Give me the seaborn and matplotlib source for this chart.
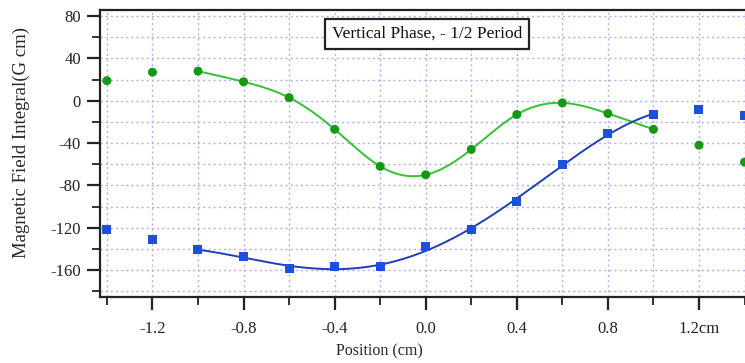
import numpy as np
import pandas as pd
import matplotlib
matplotlib.use("Agg")
import matplotlib.pyplot as plt
import seaborn as sns
from matplotlib.ticker import MultipleLocator, FixedLocator

positions = [-1.4, -1.2, -1.0, -0.8, -0.6, -0.4, -0.2, 0.0, 0.2, 0.4, 0.6, 0.8, 1.0, 1.2, 1.4]
green_vals = [19, 27, 28, 18, 3, -27, -62, -70, -46, -13, -2, -12, -27, -42, -58]
blue_vals = [-122, -131, -141, -147, -159, -157, -157, -138, -122, -95, -60, -31, -13, -8, -14]
xtick_vals = [-1.2, -0.8, -0.4, 0.0, 0.4, 0.8, 1.2]
xtick_labels = ["-1.2", "-0.8", "-0.4", "0.0", "0.4", "0.8", "1.2cm"]
ytick_vals = [80, 40, 0, -40, -80, -120, -160]
title_text = "Vertical Phase, - 1/2 Period"


def natural_spline(x, y, xs):
    x = np.asarray(x, float); y = np.asarray(y, float)
    n = len(x)
    h = np.diff(x)
    A = np.zeros((n, n)); r = np.zeros(n)
    A[0, 0] = A[-1, -1] = 1
    for i in range(1, n - 1):
        A[i, i - 1] = h[i - 1]; A[i, i] = 2 * (h[i - 1] + h[i]); A[i, i + 1] = h[i]
        r[i] = 3 * ((y[i + 1] - y[i]) / h[i] - (y[i] - y[i - 1]) / h[i - 1])
    c = np.linalg.solve(A, r)
    out = []
    for v in xs:
        i = min(max(np.searchsorted(x, v) - 1, 0), n - 2)
        b = (y[i + 1] - y[i]) / h[i] - h[i] * (2 * c[i] + c[i + 1]) / 3
        d = (c[i + 1] - c[i]) / (3 * h[i])
        t = v - x[i]
        out.append(y[i] + b * t + c[i] * t ** 2 + d * t ** 3)
    return np.array(out)


df = pd.DataFrame({"pos": positions, "green": green_vals, "blue": blue_vals})
fit_df = df[(df.pos >= -1.0) & (df.pos <= 1.0)]
xs = np.linspace(-1.0, 1.0, 300)
green_fit = natural_spline(fit_df.pos, fit_df.green, xs)
blue_fit = np.polyval(np.polyfit(fit_df.pos, fit_df.blue, 4), xs)
curves = pd.DataFrame({"pos": xs, "green": green_fit, "blue": blue_fit})

sns.set_style("white")
plt.rcParams["font.family"] = ["Liberation Serif", "DejaVu Serif"]
plt.rcParams["axes.unicode_minus"] = False

fig = plt.figure(figsize=(7.45, 3.63), dpi=100)
ax = fig.add_axes([0.134, 0.182, 0.866, 0.79])

sns.lineplot(data=curves, x="pos", y="green", ax=ax, color="#33c233", lw=1.4)
sns.lineplot(data=curves, x="pos", y="blue", ax=ax, color="#1f3fb8", lw=1.4)
sns.scatterplot(data=df, x="pos", y="green", ax=ax, color="#139a13", marker="o", s=42,
                edgecolor="none", zorder=5, clip_on=False)
sns.scatterplot(data=df, x="pos", y="blue", ax=ax, color="#1a4fe0", marker="s", s=42,
                edgecolor="none", zorder=5, clip_on=False)

ax.set_xlim(-1.431, 1.402)
ax.set_ylim(-185.5, 85.7)
ax.xaxis.set_major_locator(FixedLocator(xtick_vals))
ax.set_xticklabels(xtick_labels)
ax.xaxis.set_minor_locator(MultipleLocator(0.2))
ax.yaxis.set_major_locator(FixedLocator(ytick_vals))
ax.yaxis.set_minor_locator(MultipleLocator(20))
ax.tick_params(axis="both", which="both", bottom=True, left=True, top=False, right=False,
               direction="out", colors="#222222")
ax.tick_params(axis="both", which="major", length=9.5, width=1.6, labelsize=12)
ax.tick_params(axis="x", which="major", pad=8)
ax.tick_params(axis="y", which="major", pad=4)
ax.tick_params(axis="both", which="minor", length=5.5, width=1.3)
ax.grid(True, which="both", color="#b0b0ee", linestyle=(0, (1.5, 2.2)), lw=1.0)
ax.set_axisbelow(True)

for s in ["left", "bottom", "top"]:
    ax.spines[s].set_color("#222222")
    ax.spines[s].set_linewidth(1.6)
ax.spines["right"].set_visible(False)

ax.set_xlabel("Position (cm)", fontsize=11.5)
ax.xaxis.set_label_coords(0.434, -0.163)
ax.set_ylabel("Magnetic Field Integral(G cm)", fontsize=13.5)
ax.yaxis.set_label_coords(-0.108, 0.537)

ax.text(0.507, 0.917, title_text, transform=ax.transAxes, ha="center", va="center",
        fontsize=12.5, color="#111111",
        bbox=dict(boxstyle="square,pad=0.4", fc="white", ec="#222222", lw=1.6), zorder=6)

fig.savefig("out.png", dpi=100)
